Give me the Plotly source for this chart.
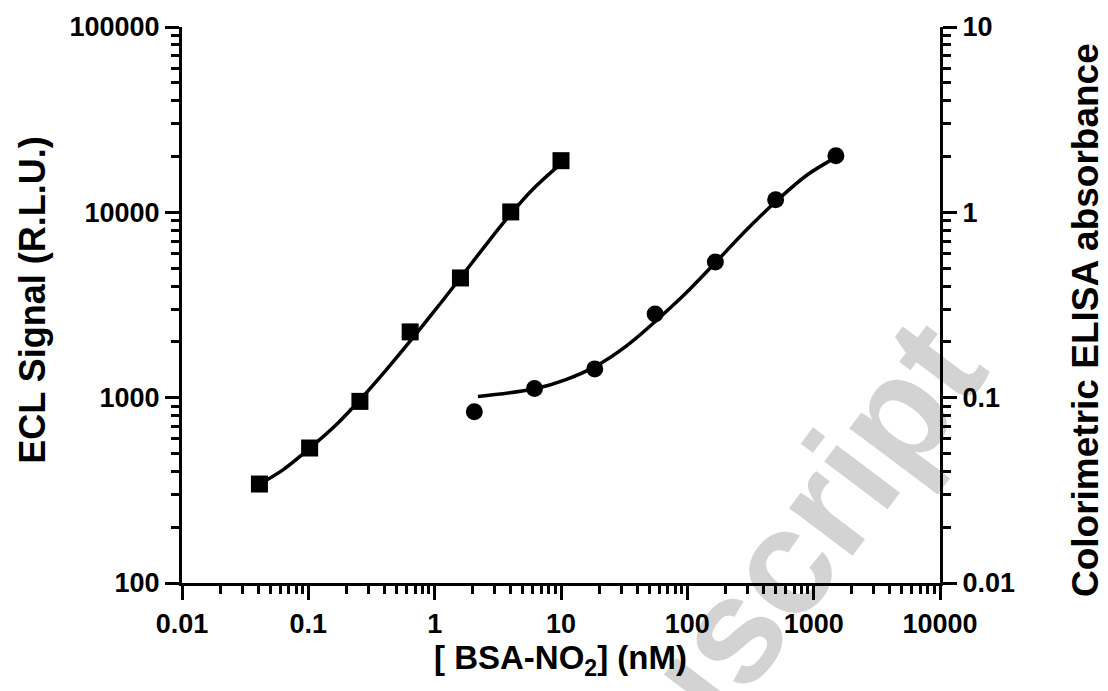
import plotly.graph_objects as go

# ECL signal (squares, left axis)
ecl_conc = [0.041, 0.1024, 0.256, 0.64, 1.6, 4.0, 10.0]
ecl_signal = [342, 535, 955, 2264, 4425, 10050, 19000]
# fitted curve samples
ecl_fit_x = [0.041, 0.063, 0.1024, 0.167, 0.256, 0.417, 0.676, 1.04, 1.6, 2.5, 4.0, 6.04, 10.0]
ecl_fit_y = [342, 408, 533, 716, 973, 1422, 2113, 3048, 4436, 6577, 9795, 13400, 18320]

# Colorimetric ELISA absorbance (circles, right axis)
elisa_conc = [2.06, 6.17, 18.5, 55.6, 166.7, 500, 1500]
elisa_abs = [0.084, 0.112, 0.143, 0.283, 0.54, 1.17, 2.02]
elisa_fit_x = [2.2, 6.24, 10.8, 18.4, 33.2, 88, 105, 166.7, 296, 500, 887, 1500]
elisa_fit_y = [0.1016, 0.1117, 0.1247, 0.1466, 0.191, 0.343, 0.386, 0.535, 0.807, 1.14, 1.59, 1.98]

x_title = "[ BSA-NO<sub>2</sub>] (nM)"
y_title = "ECL Signal (R.L.U.)"
y2_title = "Colorimetric ELISA absorbance"
watermark = "Manuscript"

FONT = "Liberation Sans"

fig = go.Figure()
fig.add_trace(go.Scatter(x=ecl_fit_x, y=ecl_fit_y, mode="lines",
                         line=dict(color="black", width=3.5, shape="spline", smoothing=1),
                         hoverinfo="skip", showlegend=False))
fig.add_trace(go.Scatter(x=ecl_conc, y=ecl_signal, mode="markers",
                         marker=dict(symbol="square", size=17, color="black"),
                         showlegend=False))
fig.add_trace(go.Scatter(x=elisa_fit_x, y=elisa_fit_y, mode="lines", yaxis="y2",
                         line=dict(color="black", width=3.5, shape="spline", smoothing=1),
                         hoverinfo="skip", showlegend=False))
fig.add_trace(go.Scatter(x=elisa_conc, y=elisa_abs, mode="markers", yaxis="y2",
                         marker=dict(symbol="circle", size=17, color="black"),
                         showlegend=False))

axis_common = dict(
    type="log", dtick=1, tickformat="~g", showgrid=False, zeroline=False,
    showline=True, linewidth=3, linecolor="black", automargin=False,
    ticks="outside", ticklen=14, tickwidth=3, tickcolor="black",
    tickfont=dict(family=FONT, size=27, color="black", weight="bold"),
    minor=dict(ticks="outside", ticklen=8, tickwidth=3, tickcolor="black",
               dtick="D1", showgrid=False),
)

# page body has an 8px margin, so the figure is shrunk by 8px and margins offset
fig.update_layout(
    width=1100, height=683,
    margin=dict(l=174, r=168, t=19, b=108),
    paper_bgcolor="white", plot_bgcolor="rgba(0,0,0,0)",
    xaxis=dict(range=[-2, 4], ticklabelstandoff=1, **axis_common),
    yaxis=dict(range=[2, 5], **axis_common),
    yaxis2=dict(range=[-2, 1], overlaying="y", side="right", **axis_common),
    shapes=[
        dict(type="rect", xref="paper", yref="paper",
             x0=0.671, x1=0.691, y0=-0.132, y1=-0.112,
             line=dict(width=0), fillcolor="rgba(0,0,0,0)", layer="below",
             label=dict(text=watermark, textangle=-53, textposition="middle center",
                        font=dict(family=FONT, size=150, color="#d3d3d3", weight="bold"))),
    ],
    annotations=[
        dict(text=x_title, xref="paper", yref="paper", x=0.4987, y=-0.1385,
             showarrow=False, xanchor="center", yanchor="middle",
             font=dict(family=FONT, size=33, color="black", weight="bold")),
        dict(text=y_title, xref="paper", yref="paper", x=-0.197, y=0.509,
             textangle=-90, showarrow=False, xanchor="center", yanchor="middle",
             font=dict(family=FONT, size=36, color="black", weight="bold")),
        dict(text=y2_title, xref="paper", yref="paper", x=1.1913, y=0.473,
             textangle=-90, showarrow=False, xanchor="center", yanchor="middle",
             font=dict(family=FONT, size=37, color="black", weight="bold")),
    ],
)

fig.write_html("out.html")
